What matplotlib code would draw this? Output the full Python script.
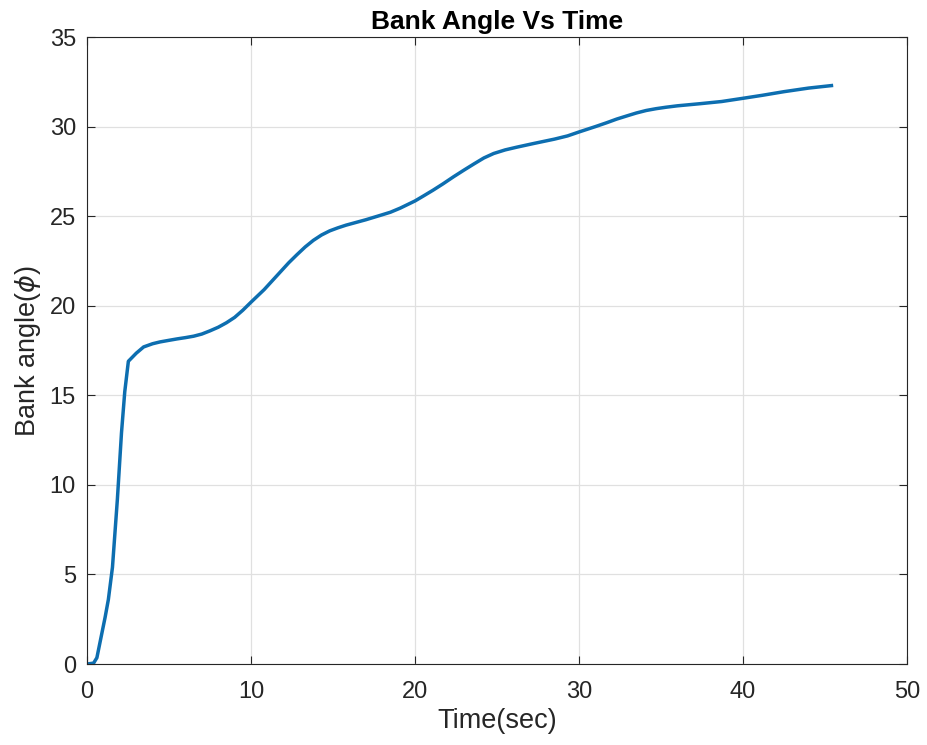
import matplotlib
matplotlib.use('Agg')
from matplotlib import pyplot as plt

# values
time_sec = [0.0, 0.4, 0.6, 0.9, 1.1, 1.3, 1.55, 1.85, 2.1, 2.3, 2.52,
            3.0, 3.45, 4.0, 4.45, 5.0, 5.5, 6.0, 6.5, 7.0, 7.5, 8.0, 8.5, 9.0,
            9.5, 10.0, 10.4, 10.8, 11.3, 11.8, 12.3, 12.8, 13.3, 13.8, 14.3,
            14.8, 15.3, 15.8, 16.4, 17.0, 17.9, 18.5, 19.1, 20.0, 20.5, 21.1,
            21.7, 22.35, 23.0, 23.6, 24.2, 24.8, 25.5, 26.2, 27.2, 28.5, 29.3,
            30.0, 31.0, 31.7, 32.3, 33.0, 33.5, 34.1, 34.7, 35.3, 36.0, 37.4,
            38.7, 40.0, 41.2, 42.5, 44.0, 45.5]
bank_angle = [0.0, 0.05, 0.35, 1.7, 2.6, 3.6, 5.4, 9.2, 12.9, 15.2, 16.9,
              17.35, 17.7, 17.88, 17.98, 18.07, 18.15, 18.22, 18.3, 18.42, 18.6, 18.8, 19.05, 19.35,
              19.75, 20.2, 20.55, 20.9, 21.4, 21.9, 22.4, 22.85, 23.28, 23.65, 23.95,
              24.18, 24.35, 24.5, 24.65, 24.8, 25.05, 25.22, 25.45, 25.85, 26.12, 26.45,
              26.8, 27.2, 27.58, 27.92, 28.25, 28.5, 28.7, 28.85, 29.05, 29.3, 29.48,
              29.7, 30.0, 30.22, 30.42, 30.62, 30.76, 30.9, 31.0, 31.08, 31.16, 31.28,
              31.4, 31.58, 31.75, 31.95, 32.15, 32.3]

x_ticks = [0, 10, 20, 30, 40, 50]
y_ticks = [0, 5, 10, 15, 20, 25, 30, 35]

plt.rcParams['font.family'] = ['Liberation Sans', 'DejaVu Sans']

fig = plt.figure(figsize=(9.27, 7.45), dpi=100)
ax = fig.add_axes([0.0939, 0.1087, 0.8845, 0.8416])

ax.plot(time_sec, bank_angle, color='#0d6eb0', linewidth=2.5,
        solid_capstyle='butt', solid_joinstyle='round')

ax.set_xlim(0, 50)
ax.set_ylim(0, 35)
ax.set_xticks(x_ticks)
ax.set_yticks(y_ticks)
ax.tick_params(direction='in', length=6, width=0.8, labelsize=17,
               colors='#262626', top=True, right=True, labeltop=False, labelright=False)
ax.tick_params(axis='x', pad=12)
ax.tick_params(axis='y', pad=8)
ax.grid(True, color='#e0e0e0', linewidth=0.9)
ax.set_axisbelow(True)
for sp in ax.spines.values():
    sp.set_color('#262626')
    sp.set_linewidth(0.8)

ax.set_xlabel('Time(sec)', fontsize=19.5, color='#262626', labelpad=4)
ax.set_ylabel(r'Bank angle($\phi$)', fontsize=19.5, color='#262626', labelpad=5)
ax.set_title('Bank Angle Vs Time', fontsize=19, fontweight='bold', pad=6)

fig.savefig('out.png', dpi=100)
